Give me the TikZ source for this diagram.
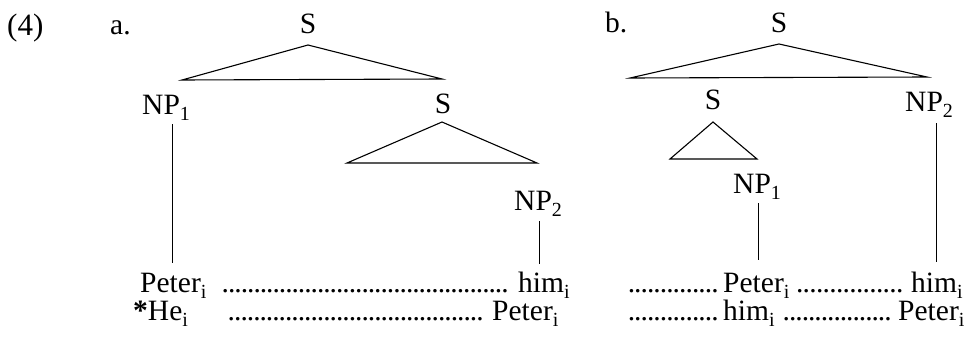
\documentclass[tikz,border=0pt]{standalone}
\usepackage{fontspec}
\setmainfont{Liberation Serif}
\newcommand{\fsz}{\fontsize{29.5}{31}\selectfont}
\newcommand{\lsb}[1]{\raisebox{-6.5pt}{\fontsize{20}{20}\selectfont #1}}
\newcommand{\dts}[1]{\hbox to #1{\xleaders\hbox to 6.3pt{\hss.\hss}\hfill}}
\tikzset{
  lbl/.style={inner sep=0pt, anchor=base, font=\fsz},
  wlbl/.style={inner sep=0pt, anchor=base west, font=\fsz},
  tri/.style={line width=1.1pt, line join=miter},
  stem/.style={line width=0.9pt}
}
\begin{document}
\begin{tikzpicture}[x=1pt,y=-1pt]
\useasboundingbox (0,0) rectangle (972,353);
% labels
\node[wlbl, font=\fontsize{31}{32}\selectfont] (ex) at (7,36) {(4)};
\node[wlbl] (la) at (110,35) {a.};
\node[wlbl] (lb) at (605,33) {b.};
% tree a
\node[lbl] (Sa) at (308,34) {S};
\coordinate (Sat) at (308,45);
\coordinate (Sal) at (182,80);
\coordinate (Sar) at (442,79);
\draw[tri] (Sat) -- (Sal) -- (Sar) -- cycle;
\node[wlbl] (NP1a) at (142,114) {NP\lsb{1}};
\node[lbl] (Sa2) at (443,113) {S};
\coordinate (Sbt) at (442,122);
\coordinate (Sbl) at (347,163);
\coordinate (Sbr) at (537,163);
\draw[tri] (Sbt) -- (Sbl) -- (Sbr) -- cycle;
\node[wlbl] (NP2a) at (514,210) {NP\lsb{2}};
\coordinate (a1t) at (172,124);
\coordinate (a1b) at (172,263);
\draw[stem] (a1t) -- (a1b);
\coordinate (a2t) at (539,221);
\coordinate (a2b) at (539,264);
\draw[stem] (a2t) -- (a2b);
% tree b
\node[lbl] (Sb) at (779,33) {S};
\coordinate (Sct) at (779,44);
\coordinate (Scl) at (630,78);
\coordinate (Scr) at (927,77);
\draw[tri] (Sct) -- (Scl) -- (Scr) -- cycle;
\node[lbl] (Sb2) at (713,110) {S};
\coordinate (Sdt) at (713,122);
\coordinate (Sdl) at (670,159);
\coordinate (Sdr) at (757,159);
\draw[tri] (Sdt) -- (Sdl) -- (Sdr) -- cycle;
\node[wlbl] (NP2b) at (905,111) {NP\lsb{2}};
\node[wlbl] (NP1b) at (733,193) {NP\lsb{1}};
\coordinate (b2t) at (936,123);
\coordinate (b2b) at (936,262);
\draw[stem] (b2t) -- (b2b);
\coordinate (b1t) at (758,203);
\coordinate (b1b) at (758,260);
\draw[stem] (b1t) -- (b1b);
% rows a
\node[wlbl] (pa1) at (140,292) {Peter\lsb{i}};
\node[wlbl] (da1) at (222,292) {\dts{286pt}};
\node[wlbl] (ha1) at (518,292) {him\lsb{i}};
\node[wlbl] (hea2) at (133,320) {\textbf{*}He\lsb{i}};
\node[wlbl] (da2) at (228,320) {\dts{255pt}};
\node[wlbl] (pa2) at (492,320) {Peter\lsb{i}};
% rows b
\node[wlbl] (db1) at (628,292) {\dts{90pt}};
\node[wlbl] (pb1) at (723,292) {Peter\lsb{i}};
\node[wlbl] (db2) at (796,292) {\dts{107pt}};
\node[wlbl] (hb1) at (911,292) {him\lsb{i}};
\node[wlbl] (db3) at (628,320) {\dts{90pt}};
\node[wlbl] (hb2) at (723,320) {him\lsb{i}};
\node[wlbl] (db4) at (783,320) {\dts{108pt}};
\node[wlbl] (pb2) at (898,320) {Peter\lsb{i}};
\end{tikzpicture}
\end{document}
